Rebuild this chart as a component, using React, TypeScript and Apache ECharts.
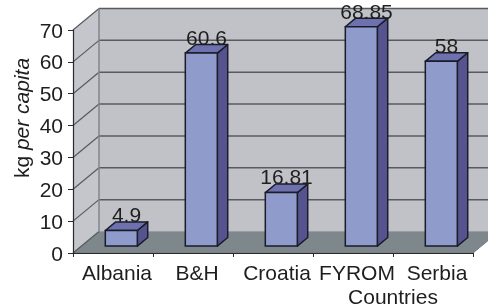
import React, { useEffect, useRef } from "react";
import * as echarts from "echarts";

const categories = ["Albania", "B&H", "Croatia", "FYROM", "Serbia"];
const values = [4.9, 60.6, 16.81, 68.85, 58];
const yTicks = [0, 10, 20, 30, 40, 50, 60, 70];
const xAxisTitle = "Countries";
const yAxisTitleUnit = "kg";
const yAxisTitleRest = "per capita";

const FONT = '"Liberation Sans", Arial, Helvetica, sans-serif';
const DX = 26;
const DY = -21.5;

export default function App() {
  const ref = useRef<HTMLDivElement>(null);
  useEffect(() => {
    if (!ref.current) return;
    const chart = echarts.init(ref.current, null, { renderer: "svg" });
    const yMax = yTicks[yTicks.length - 1];

    const wallsRender = (params: any, api: any) => {
      const cs = params.coordSys;
      const left = cs.x;
      const right = cs.x + cs.width;
      const y0 = api.coord([0, 0])[1];
      const yT = api.coord([0, yMax])[1];
      const children: any[] = [];
      children.push({
        type: "polygon",
        shape: { points: [[left, y0], [right, y0], [right + DX, y0 + DY], [left + DX, y0 + DY]] },
        style: { fill: "#7d878c", stroke: "#6f787c", lineWidth: 1 },
      });
      children.push({
        type: "polygon",
        shape: { points: [[left + DX, yT + DY], [right + DX, yT + DY], [right + DX, y0 + DY], [left + DX, y0 + DY]] },
        style: { fill: "#c0c2c7" },
      });
      children.push({
        type: "polygon",
        shape: { points: [[left, yT], [left + DX, yT + DY], [left + DX, y0 + DY], [left, y0]] },
        style: { fill: "#c4c6cb" },
      });
      yTicks.forEach((v) => {
        const yv = api.coord([0, v])[1];
        if (v > 0) {
          children.push({
            type: "line",
            shape: { x1: left + DX, y1: yv + DY, x2: right + DX, y2: yv + DY },
            style: { stroke: "#565b60", lineWidth: 1.5 },
          });
        }
        children.push({
          type: "line",
          shape: { x1: left, y1: yv, x2: left + DX, y2: yv + DY },
          style: { stroke: "#565b60", lineWidth: 1.2 },
        });
      });
      children.push({
        type: "line",
        shape: { x1: left + DX, y1: yT + DY, x2: left + DX, y2: y0 + DY },
        style: { stroke: "#80868b", lineWidth: 1.5 },
      });
      return { type: "group", children };
    };

    const barsRender = (params: any, api: any) => {
      const cat = api.value(0);
      const val = api.value(1);
      const top = api.coord([cat, val]);
      const base = api.coord([cat, 0]);
      const cx = top[0];
      const bw = api.size([1, 0])[0] * 0.4;
      const fdx = DX * 0.32;
      const fdy = DY * 0.32;
      const sdx = DX * 0.4;
      const sdy = DY * 0.4;
      const x1 = cx - bw / 2 + fdx;
      const x2 = cx + bw / 2 + fdx;
      const yT = top[1] + fdy;
      const yB = base[1] + fdy;
      const stroke = "#1b1b2a";
      return {
        type: "group",
        children: [
          {
            type: "polygon",
            shape: { points: [[x2, yT], [x2 + sdx, yT + sdy], [x2 + sdx, yB + sdy], [x2, yB]] },
            style: { fill: "#55548f", stroke, lineWidth: 1.5, lineJoin: "round" },
          },
          {
            type: "polygon",
            shape: { points: [[x1, yT], [x2, yT], [x2 + sdx, yT + sdy], [x1 + sdx, yT + sdy]] },
            style: { fill: "#6d71ad", stroke, lineWidth: 1.5, lineJoin: "round" },
          },
          {
            type: "rect",
            shape: { x: x1, y: yT, width: x2 - x1, height: yB - yT },
            style: { fill: "#8f9bca", stroke, lineWidth: 1.5 },
          },
          {
            type: "text",
            style: {
              text: String(val),
              x: (x1 + x2 + sdx) / 2,
              y: yT + sdy + 3.5,
              align: "center",
              verticalAlign: "bottom",
              fontSize: 21,
              fontFamily: FONT,
              fill: "#1e1e1e",
            },
          },
        ],
      };
    };

    chart.setOption({
      animation: false,
      grid: { left: 73, right: 15, top: 30, bottom: 53, containLabel: false },
      xAxis: {
        type: "category",
        data: categories,
        z: 5,
        axisLine: { show: true, lineStyle: { color: "#2a2a2a", width: 1.2 } },
        axisTick: { show: true, length: 4, lineStyle: { color: "#2a2a2a" } },
        axisLabel: {
          interval: 0,
          fontSize: 21,
          fontFamily: FONT,
          color: "#1e1e1e",
          margin: 9,
          padding: [0, 0, 0, 8],
        },
        splitLine: { show: false },
      },
      yAxis: {
        type: "value",
        min: 0,
        max: yMax,
        interval: 10,
        z: 5,
        axisLine: { show: true, lineStyle: { color: "#2a2a2a", width: 1.2 } },
        axisTick: { show: true, length: 5, lineStyle: { color: "#2a2a2a" } },
        axisLabel: { fontSize: 21, fontFamily: FONT, color: "#1e1e1e", margin: 10 },
        splitLine: { show: false },
      },
      graphic: [
        {
          type: "text",
          x: 393,
          y: 296.5,
          style: {
            text: xAxisTitle,
            align: "center",
            verticalAlign: "middle",
            fontSize: 21,
            fontFamily: FONT,
            fill: "#1e1e1e",
          },
        },
        {
          type: "text",
          x: 21,
          y: 118,
          rotation: Math.PI / 2,
          style: {
            text: `{n|${yAxisTitleUnit} }{i|${yAxisTitleRest}}`,
            align: "center",
            verticalAlign: "middle",
            rich: {
              n: { fontSize: 21, fontFamily: FONT, fill: "#1e1e1e" },
              i: { fontSize: 21, fontFamily: FONT, fontStyle: "italic", fill: "#1e1e1e" },
            },
          },
        },
      ],
      series: [
        {
          type: "custom",
          name: "walls",
          z: 1,
          silent: true,
          clip: false,
          data: [[0, 0]],
          renderItem: wallsRender,
        },
        {
          type: "custom",
          name: "bars",
          z: 2,
          silent: true,
          clip: false,
          data: values.map((v, i) => [i, v]),
          renderItem: barsRender,
        },
      ],
    });
    return () => chart.dispose();
  }, []);
  return (
    <div
      ref={ref}
      style={{ position: "fixed", left: 0, top: 0, width: 488, height: 306 }}
    />
  );
}
